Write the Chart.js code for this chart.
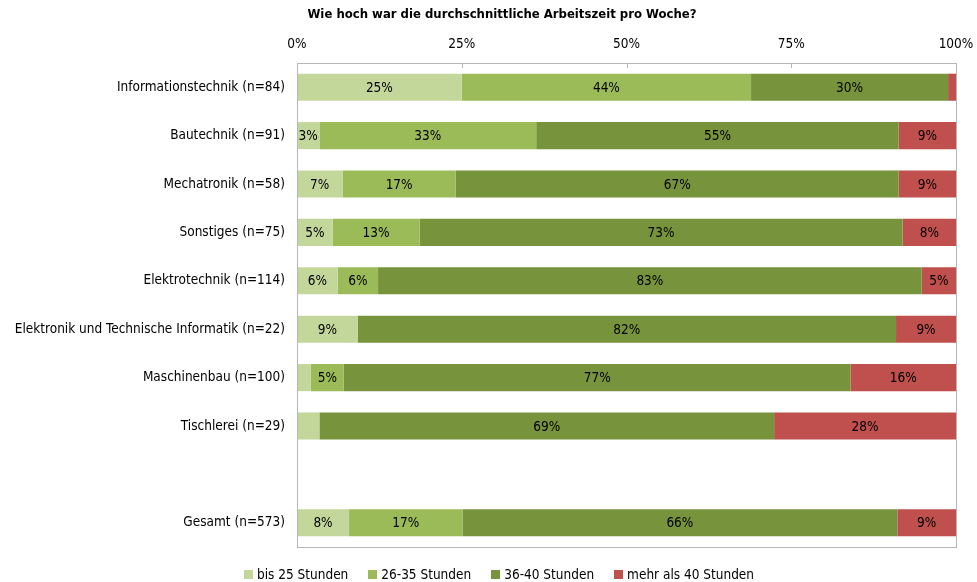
<!DOCTYPE html>
<html lang="de">
<head>
<meta charset="utf-8">
<title>Arbeitszeit pro Woche</title>
<script src="https://cdn.jsdelivr.net/npm/chart.js@4/dist/chart.umd.min.js"></script>
<style>
    html, body { margin: 0; padding: 0; background: #fff; }
    #wrap { width: 977px; height: 582px; position: relative; }
</style>
</head>
<body>
<div id="wrap"><canvas id="arbeitszeitChart"></canvas></div>
<script>
// Fachrichtungen (leere Zeile trennt Gesamt ab)
const categories = [
    'Informationstechnik (n=84)',
    'Bautechnik (n=91)',
    'Mechatronik (n=58)',
    'Sonstiges (n=75)',
    'Elektrotechnik (n=114)',
    'Elektronik und Technische Informatik (n=22)',
    'Maschinenbau (n=100)',
    'Tischlerei (n=29)',
    '',
    'Gesamt (n=573)'
];

// Anteile in Prozent
const bis25 = [25.0, 3.4, 6.9, 5.4, 6.2, 9.2, 2.1, 3.4, null, 7.9];
const von26bis35 = [43.9, 32.9, 17.2, 13.2, 6.1, 0, 5.0, 0, null, 17.2];
const von36bis40 = [29.9, 55.0, 67.2, 73.3, 82.5, 81.7, 76.9, 69.0, null, 66.0];
const ueber40 = [1.2, 8.7, 8.7, 8.1, 5.2, 9.1, 16.0, 27.6, null, 8.9];

const xTicks = [0, 25, 50, 75, 100];

// Segmente ohne Beschriftung: [Datensatz, Kategorie]
const hiddenLabels = [[3, 0], [0, 6], [0, 7]];

const FONT = '"Liberation Sans Narrow", "DejaVu Sans Condensed", "Open Sans", sans-serif';
const FONT_SIZE = 13.5;
const GRID = '#B7B7B7';

// Titel oben
const titlePlugin = {
    id: 'titleText',
    afterDraw(chart) {
        const ctx = chart.ctx;
        ctx.save();
        ctx.font = 'bold 13px ' + FONT;
        ctx.fillStyle = '#000';
        ctx.textAlign = 'center';
        ctx.textBaseline = 'middle';
        ctx.fillText('Wie hoch war die durchschnittliche Arbeitszeit pro Woche?', 502, 15);
        ctx.restore();
    }
};

// Rahmen um die Zeichenfläche und kurze Teilstriche nach innen
const framePlugin = {
    id: 'frame',
    afterDraw(chart) {
        const { ctx, chartArea: a, scales } = chart;
        ctx.save();
        ctx.strokeStyle = GRID;
        ctx.lineWidth = 1;
        ctx.strokeRect(Math.round(a.left) + 0.5, Math.round(a.top) + 0.5,
            Math.round(a.right - a.left), Math.round(a.bottom - a.top));
        ctx.beginPath();
        xTicks.slice(1, -1).forEach(v => {
            const x = Math.round(scales.x.getPixelForValue(v)) + 0.5;
            ctx.moveTo(x, a.top);
            ctx.lineTo(x, a.top + 5);
        });
        ctx.stroke();
        ctx.restore();
    }
};

// Prozentwerte mittig in die Segmente
const valueLabels = {
    id: 'valueLabels',
    afterDatasetsDraw(chart) {
        const ctx = chart.ctx;
        ctx.save();
        ctx.font = FONT_SIZE + 'px ' + FONT;
        ctx.fillStyle = '#000';
        ctx.textAlign = 'center';
        ctx.textBaseline = 'middle';
        chart.data.datasets.forEach((ds, di) => {
            chart.getDatasetMeta(di).data.forEach((bar, i) => {
                const v = ds.data[i];
                if (!v) return;
                if (hiddenLabels.some(h => h[0] === di && h[1] === i)) return;
                ctx.fillText(Math.round(v) + '%', (bar.x + bar.base) / 2, bar.y + 1);
            });
        });
        ctx.restore();
    }
};

// Legende unten, eine Zeile mit kleinen Quadraten
const legendPlugin = {
    id: 'bottomLegend',
    afterDraw(chart) {
        const ctx = chart.ctx;
        const box = 9, gapText = 4, gapItem = 20;
        const y = chart.chartArea.bottom + 27;
        ctx.save();
        ctx.font = FONT_SIZE + 'px ' + FONT;
        ctx.textBaseline = 'middle';
        ctx.textAlign = 'left';
        const items = chart.data.datasets.map(ds => ({
            text: ds.label, color: ds.backgroundColor, w: ctx.measureText(ds.label).width
        }));
        const total = items.reduce((s, it) => s + box + gapText + it.w, 0) + gapItem * (items.length - 1);
        let x = 499 - total / 2;
        items.forEach(it => {
            ctx.fillStyle = it.color;
            ctx.fillRect(Math.round(x), Math.round(y - box / 2), box, box);
            ctx.fillStyle = '#000';
            ctx.fillText(it.text, x + box + gapText, y + 1);
            x += box + gapText + it.w + gapItem;
        });
        ctx.restore();
    }
};

const ctx = document.getElementById('arbeitszeitChart').getContext('2d');
new Chart(ctx, {
    type: 'bar',
    data: {
        labels: categories,
        datasets: [
            { label: 'bis 25 Stunden', data: bis25, backgroundColor: '#C4D79B' },
            { label: '26-35 Stunden', data: von26bis35, backgroundColor: '#9BBB59' },
            { label: '36-40 Stunden', data: von36bis40, backgroundColor: '#77933C' },
            { label: 'mehr als 40 Stunden', data: ueber40, backgroundColor: '#C0504D' }
        ]
    },
    options: {
        indexAxis: 'y',
        responsive: true,
        maintainAspectRatio: false,
        animation: false,
        barPercentage: 0.56,
        categoryPercentage: 1,
        layout: {
            padding: { left: 0, right: 21, top: 22, bottom: 35 }
        },
        plugins: {
            legend: { display: false },
            tooltip: { enabled: false },
            title: { display: false }
        },
        scales: {
            x: {
                position: 'top',
                stacked: true,
                min: 0,
                max: 100,
                afterBuildTicks(scale) {
                    scale.ticks = xTicks.map(v => ({ value: v }));
                },
                afterFit(scale) {
                    scale.height = 41;
                    scale.paddingLeft = 0;
                    scale.paddingRight = 0;
                },
                grid: { display: false, drawTicks: false },
                border: { display: false },
                ticks: {
                    color: '#000',
                    padding: 10,
                    maxRotation: 0,
                    font: { family: FONT, size: FONT_SIZE },
                    callback: v => v + '%'
                }
            },
            y: {
                stacked: true,
                afterFit(scale) {
                    scale.width = 297;
                },
                grid: { display: false, drawTicks: false },
                border: { display: false },
                ticks: {
                    color: '#000',
                    padding: 12,
                    autoSkip: false,
                    font: { family: FONT, size: FONT_SIZE }
                }
            }
        }
    },
    plugins: [titlePlugin, framePlugin, valueLabels, legendPlugin]
});
</script>
</body>
</html>
